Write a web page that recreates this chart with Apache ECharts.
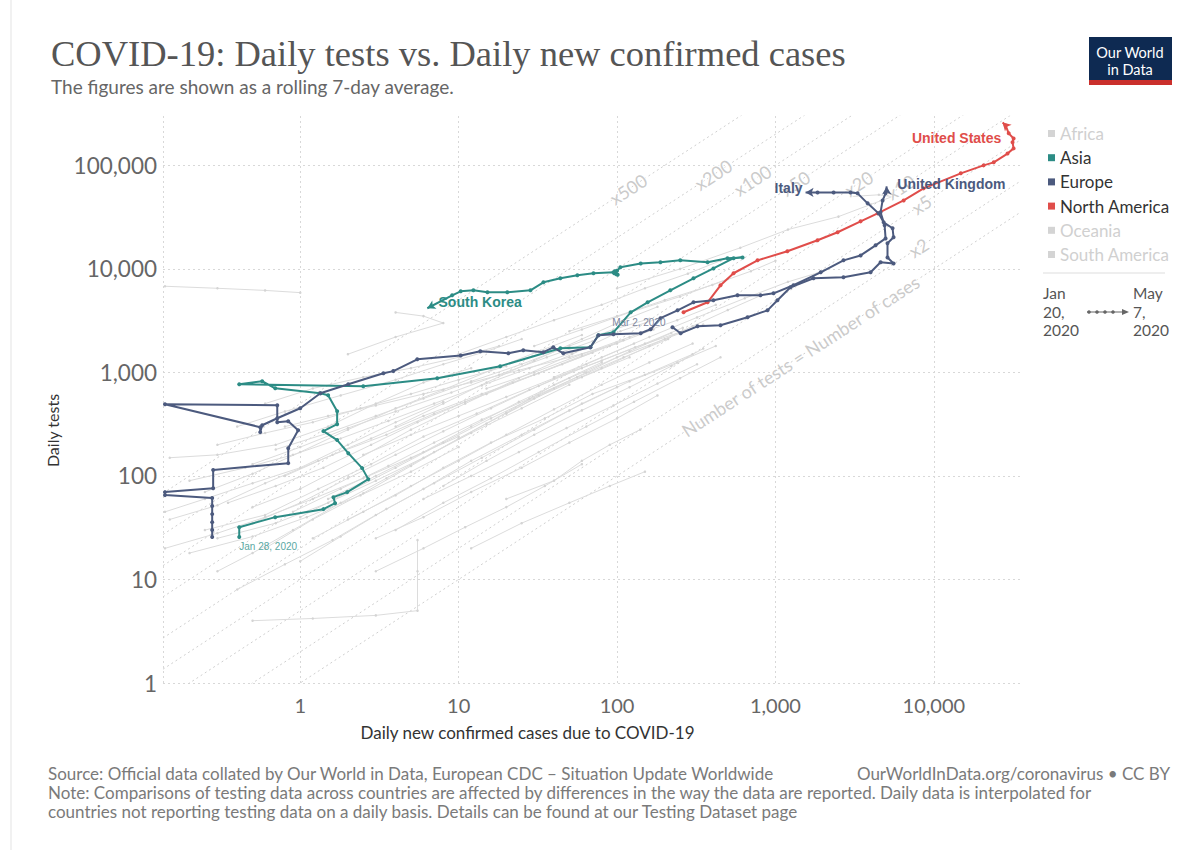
<!DOCTYPE html>
<html>
<head>
<meta charset="utf-8">
<title>COVID-19: Daily tests vs. Daily new confirmed cases</title>
<script src="https://cdn.jsdelivr.net/npm/echarts@6/dist/echarts.min.js"></script>
<style>
  html, body { margin: 0; padding: 0; background: #fff; }
  #chart { width: 1203px; height: 850px; }
</style>
</head>
<body>
<div id="chart"></div>
<script>
// ---- axis ranges and ticks -------------------------------------------------
const CASES_MIN = 0.136;
const CASES_MAX = 35000;
const TESTS_MIN = 1;
const TESTS_MAX = 300000;
const caseTicks = [1, 10, 100, 1000, 10000];
const testTicks = [1, 10, 100, 1000, 10000, 100000];

// ---- tests-per-case guide lines --------------------------------------------
const ratioLines = [1, 2, 5, 10, 20, 50, 100, 200, 500];
const ratioLabels = ['Number of tests = Number of cases', 'x2', 'x5', 'x10', 'x20', 'x50', 'x100', 'x200', 'x500'];
const ratioLabelAt = [1440, 8020, 8370, 6170, 3350, 1340, 717, 406, 118]; // daily cases where each label sits

// ---- time range key ------------------------------------------------------------
const rangeStart = ['Jan', '20,', '2020'];
const rangeEnd = ['May', '7,', '2020'];

// ---- highlighted countries: [daily new cases, daily tests] -----------------
const southKorea = [
  [0.412, 25.7], [0.412, 32], [0.695, 40], [1.40, 47.8], [1.66, 54.6], [1.62, 62.4], [1.98, 69.8],
  [2.69, 93], [2.46, 119], [2.01, 166], [1.71, 222], [1.40, 271], [1.71, 316], [1.71, 422],
  [1.50, 603], [1.34, 630], [0.695, 703], [0.575, 822], [0.412, 769], [2.50, 736], [7.33, 879],
  [18.3, 1150], [43.9, 1710], [67.9, 1750], [76.3, 2290], [94.9, 2440], [122, 3810], [156, 4760],
  [217, 6210], [304, 8120], [406, 10100], [544, 12700], [620, 12900], [498, 12700], [373, 11600],
  [251, 12100], [188, 11600], [141, 11300], [105, 10400], [100, 9600], [96, 9100], [101, 8800],
  [97, 9500], [99, 8900], [95, 9300], [71, 9080], [56.2, 8670], [43.9, 8120], [34.3, 7420],
  [28.4, 6210], [20.3, 5940], [15.2, 5940], [12.4, 6210], [10.3, 6080], [9.1, 5560], [6.34, 4170]
];
const italy = [
  [224, 2730], [252, 2390], [322, 2790], [450, 2860], [667, 3410], [891, 3980], [1030, 4980],
  [1245, 6640], [1740, 8120], [2690, 8300], [3990, 9270], [4610, 11600], [5570, 11300],
  [5100, 12900], [5100, 17700], [5570, 20200], [5490, 24700], [4820, 28200], [4480, 34400],
  [3820, 43000], [3300, 53700], [2980, 54800], [2330, 54800], [1845, 54800], [1550, 54800]
];
const unitedKingdom = [
  [0.278, 25.7], [0.278, 30], [0.278, 35.8], [0.278, 42.8], [0.278, 51.2], [0.278, 61.1],
  [0.14, 65.3], [0.14, 69.8], [0.282, 76.2], [0.282, 114], [0.84, 133], [0.84, 185], [0.97, 277],
  [0.84, 338], [0.716, 331], [0.716, 482], [0.14, 493], [0.559, 296], [0.559, 265], [0.575, 309],
  [0.716, 361], [1.0, 451], [1.34, 630], [2.01, 769], [3.35, 982], [3.87, 1030], [5.48, 1340],
  [10.3, 1460], [13.7, 1600], [20.6, 1530], [25.6, 1640], [34.3, 1570], [39.6, 1750], [45.8, 1530],
  [67.9, 1750], [76.3, 2290], [94.9, 2340], [141, 2390], [163, 2610], [188, 3340], [241, 3980],
  [304, 4760], [406, 4980], [576, 5560], [805, 5560], [973, 5810], [1300, 6950], [1930, 9270],
  [2690, 12100], [3450, 13500], [4290, 16900], [4960, 19700], [4890, 26400], [4610, 35200],
  [4750, 45900], [4960, 53700], [5040, 62700]
];
const unitedStates = [
  [263, 3810], [373, 4760], [450, 6950], [544, 9080], [771, 12100], [1190, 14800], [1845, 18900],
  [2470, 22600], [3450, 28800], [4420, 34400], [6450, 45900], [8620, 60000], [14800, 83800],
  [20600, 100000], [23900, 107000], [29200, 130000], [31900, 146000], [31400, 167000],
  [31900, 182000], [29700, 204000], [28400, 243000], [27200, 260000]
];

// ---- every other country, drawn in grey -------------------------------------
const otherCountries = [
  [[0.3, 12], [0.5, 18], [0.9, 30], [1.8, 55], [3.5, 95], [7, 170], [15, 320], [30, 560], [60, 900], [120, 1400]],
  [[0.25, 30], [0.6, 42], [1.3, 75], [2.8, 130], [6, 240], [13, 400], [28, 680], [60, 1100], [130, 1750], [260, 2500]],
  [[0.5, 50], [1, 75], [2.2, 140], [5, 280], [11, 500], [24, 880], [52, 1500], [105, 2500], [190, 3400]],
  [[0.15, 38], [0.3, 52], [0.6, 85], [1.3, 140], [2.8, 230], [6, 380], [14, 620], [32, 980], [70, 1550]],
  [[1, 15], [1.8, 26], [3.5, 48], [7, 85], [14, 150], [30, 280], [60, 500], [120, 820], [240, 1250], [420, 1800]],
  [[0.8, 100], [1.6, 160], [3.5, 250], [7, 400], [15, 620], [30, 950], [60, 1450], [110, 2050]],
  [[0.4, 8], [0.8, 14], [1.6, 24], [3, 42], [6, 75], [12, 140], [25, 250], [50, 430], [100, 720]],
  [[2, 38], [4, 65], [8, 120], [16, 210], [35, 360], [70, 620], [150, 950], [300, 1500]],
  [[0.25, 70], [0.5, 105], [1, 170], [2, 280], [4, 450], [8, 680], [16, 1050], [32, 1600], [60, 2300]],
  [[0.6, 20], [1.2, 38], [2.5, 68], [5, 125], [10, 230], [20, 410], [40, 760], [80, 1250]],
  [[0.14, 6800], [0.3, 6500], [0.6, 6200], [1, 5900]],
  [[0.7, 180], [1.5, 260], [3, 380], [6, 560], [12, 820], [25, 1200], [50, 1800], [95, 2600], [160, 3300]],
  [[1.5, 60], [3, 100], [6, 170], [12, 300], [24, 520], [50, 880], [100, 1400], [200, 2100], [350, 2900]],
  [[0.3, 25], [0.7, 35], [1.5, 55], [3, 90], [6, 150], [12, 260], [25, 450], [50, 760]],
  [[3, 25], [6, 40], [12, 70], [25, 120], [50, 210], [100, 360], [180, 600]],
  [[0.5, 130], [1, 190], [2, 290], [4, 420], [9, 640], [18, 950], [36, 1400], [70, 2000]],
  [[1, 40], [2, 70], [4, 120], [8, 210], [16, 360], [32, 600], [64, 1000], [120, 1600], [220, 2400]],
  [[0.2, 18], [0.5, 26], [1.1, 40], [2.4, 65], [5, 110], [10, 190]],
  [[4, 300], [8, 500], [15, 800], [30, 1300], [60, 2100], [110, 3200], [180, 4300]],
  [[8, 80], [15, 140], [30, 250], [60, 430], [120, 720], [220, 1150], [350, 1700]],
  [[0.4, 300], [0.8, 420], [1.8, 600], [4, 850], [8, 1200], [15, 1600], [25, 2100]],
  [[10, 1500], [20, 2200], [40, 3200], [80, 4500], [150, 6500], [280, 9000], [450, 12000]],
  [[30, 1800], [60, 2600], [120, 3800], [250, 5400], [500, 8000]],
  [[100, 6500], [250, 10000], [600, 16000], [1200, 24000], [2500, 32000], [4000, 42000], [5500, 50000], [4500, 52000], [3000, 50000]],
  [[40, 900], [80, 1400], [160, 2200], [320, 3400], [640, 5200], [1200, 7500], [2000, 9500]],
  [[2, 1500], [4, 2200], [8, 3000], [6, 3500], [4, 3800]],
  [[20, 60], [40, 90], [60, 140], [90, 200], [140, 280]],
  [[12, 20], [25, 35], [50, 55], [90, 80], [150, 110]],
  [[0.5, 4], [1.2, 4.2], [3, 4.5], [5.5, 5], [5.5, 12], [5.5, 24]],
  [[0.15, 150], [0.3, 160], [0.7, 200], [1.5, 300], [3, 500], [6, 800], [12, 1100]],
  [[0.6, 500], [1.2, 700], [2.5, 900], [5, 1100], [10, 1400], [18, 1800]],
  [[3, 12], [6, 20], [11, 32], [20, 50], [35, 80], [60, 130]],
  [[0.14, 45], [0.25, 60], [0.5, 85], [1, 120], [2, 200], [4, 330], [8, 520]],
  [[50, 2500], [100, 3500], [200, 5000], [400, 7000], [700, 9500], [1000, 12000]],
  [[20, 400], [40, 700], [80, 1100], [160, 1800], [300, 2800], [500, 4000], [800, 5500]],
  [[0.35, 55], [0.7, 80], [1.4, 120], [2.8, 200], [5.5, 330], [11, 520], [22, 800], [45, 1200], [90, 1800], [170, 2600]],
  [[0.9, 45], [1.8, 75], [3.6, 125], [7, 210], [14, 350], [28, 560], [56, 900], [110, 1400], [210, 2100]],
  [[0.2, 90], [0.45, 120], [0.9, 160], [1.8, 230], [3.6, 340], [7, 500], [14, 750], [28, 1100], [55, 1600]],
  [[1.2, 25], [2.5, 45], [5, 80], [10, 140], [20, 250], [40, 440], [80, 760], [160, 1250], [300, 1900]],
  [[0.5, 35], [1, 55], [2, 95], [4, 160], [8, 270], [16, 450], [32, 740], [64, 1200], [128, 1900]],
  [[2.5, 160], [5, 250], [10, 380], [20, 580], [40, 880], [80, 1300], [150, 1900], [260, 2700]],
  [[0.3, 200], [0.6, 260], [1.2, 330], [2.4, 450], [5, 620], [10, 850], [20, 1150]],
  [[6, 60], [12, 100], [24, 170], [48, 290], [95, 480], [180, 780], [320, 1200]],
  [[0.14, 20], [0.3, 28], [0.6, 40], [1.2, 60], [2.5, 95], [5, 150], [10, 240]],
  [[0.8, 300], [1.5, 380], [3, 480], [6, 620], [12, 800], [24, 1050], [50, 1400], [100, 1900]],
  [[15, 700], [30, 1000], [60, 1500], [120, 2200], [240, 3200], [420, 4500]],
  [[4, 30], [8, 55], [16, 95], [32, 170], [64, 300], [128, 520], [250, 880], [450, 1400]]
];

// ---- colours ------------------------------------------------------------------
const ASIA = '#2c8c85';
const EUROPE = '#4c5a7e';
const NORTH_AMERICA = '#e04d4a';
const FADED = '#d4d4d4';
const GREY_LINE = '#dcdcdc';
const FONT = 'Lato, "Noto Sans", sans-serif';
const LABEL_FONT = '"Liberation Sans", Arial, sans-serif';

function thousands(n) {
  return String(Math.round(n)).replace(/\B(?=(\d{3})+(?!\d))/g, ',');
}
function tickFormatter(list) {
  return function (v) {
    const hit = list.find(function (t) { return Math.abs(t - v) / t < 1e-6; });
    return hit ? thousands(hit) : '';
  };
}

// Turns a track into series data, decorating its first and last points.
function trackData(points, first, last) {
  return points.map(function (p, i) {
    if (i === 0 && first) return Object.assign({ value: p }, first);
    if (i === points.length - 1 && last) return Object.assign({ value: p }, last);
    return p;
  });
}

function countrySeries(name, color, points, first, last, z) {
  return {
    type: 'line', name: name, silent: true, z: z,
    data: trackData(points, first, last),
    symbol: 'circle', symbolSize: 4, showSymbol: true,
    itemStyle: { color: color },
    lineStyle: { color: color, width: 2 },
    label: { show: false },
    emphasis: { disabled: true }
  };
}

function endLabel(text, color, position, offset, extra) {
  return {
    label: Object.assign({
      show: true, formatter: text, position: position, offset: offset,
      color: color, fontFamily: LABEL_FONT, fontWeight: 'bold', fontSize: 14
    }, extra || {})
  };
}

const series = [];

// guide lines
ratioLines.forEach(function (k) {
  series.push({
    type: 'line', silent: true, z: 1, clip: true, symbol: 'none',
    data: [[CASES_MIN, k * CASES_MIN], [CASES_MAX, k * CASES_MAX]],
    lineStyle: { color: '#cfcfcf', width: 1, type: [2, 3] },
    emphasis: { disabled: true }
  });
});

// guide line captions
series.push({
  type: 'scatter', silent: true, z: 3, symbolSize: 0,
  data: ratioLines.map(function (k, i) {
    return { value: [ratioLabelAt[i], k * ratioLabelAt[i]], name: ratioLabels[i] };
  }),
  label: {
    show: true, position: 'inside', formatter: '{b}', rotate: 33,
    color: '#bdbdbd', fontFamily: FONT, fontSize: 18,
    textBorderColor: '#ffffff', textBorderWidth: 3
  },
  emphasis: { disabled: true }
});

// grey countries
otherCountries.forEach(function (pts) {
  series.push({
    type: 'line', silent: true, z: 2, data: pts,
    symbol: 'circle', symbolSize: 2.5, showSymbol: true,
    itemStyle: { color: '#d4d4d4' },
    lineStyle: { color: GREY_LINE, width: 1 },
    emphasis: { disabled: true }
  });
});

// empty entries so faded continents still appear in the legend
['Africa', 'Oceania', 'South America'].forEach(function (n) {
  series.push({ type: 'line', name: n, data: [], itemStyle: { color: FADED } });
});

series.push(countrySeries('Asia', ASIA, southKorea,
  { label: { show: true, formatter: 'Jan 28, 2020', position: [2, 6], align: 'left', verticalAlign: 'top',
             color: '#5aa8a2', fontFamily: LABEL_FONT, fontSize: 10 } },
  Object.assign({ symbol: 'arrow', symbolSize: [7, 8], symbolRotate: 117 },
    endLabel('South Korea', ASIA, 'right', [0, -4], { distance: 2 })), 6));

series.push(countrySeries('Europe', EUROPE, italy,
  { label: { show: true, formatter: 'Mar 2, 2020', position: 'left', offset: [0, -5],
             color: '#7d869e', fontFamily: LABEL_FONT, fontSize: 10 } },
  Object.assign({ symbol: 'arrow', symbolSize: [7, 8], symbolRotate: 90 },
    endLabel('Italy', EUROPE, 'left', [0, -4], { distance: 3 })), 6));

series.push(countrySeries('Europe', EUROPE, unitedKingdom, null,
  Object.assign({ symbol: 'arrow', symbolSize: [7, 8], symbolRotate: 0 },
    endLabel('United Kingdom', EUROPE, 'right', [0, -6], { distance: 6 })), 6));

series.push(countrySeries('North America', NORTH_AMERICA, unitedStates, null,
  Object.assign({ symbol: 'arrow', symbolSize: [7, 8], symbolRotate: 45 },
    endLabel('United States', NORTH_AMERICA, 'left', [4, 13], { distance: 2 })), 5));

const legendNames = ['Africa', 'Asia', 'Europe', 'North America', 'Oceania', 'South America'];
const legendColors = [FADED, ASIA, EUROPE, NORTH_AMERICA, FADED, FADED];
const legendText = ['#d0d0d0', '#333333', '#333333', '#333333', '#d0d0d0', '#d0d0d0'];

// time range key: each word on its own row
const rangeText = [];
[[1043, rangeStart], [1133, rangeEnd]].forEach(function (col) {
  col[1].forEach(function (word, i) {
    rangeText.push({
      type: 'text', silent: true, x: col[0], y: 293 + i * 18.5,
      style: { text: word, fill: '#555', fontFamily: FONT, fontSize: 15.5, align: 'left', verticalAlign: 'middle' }
    });
  });
});

const option = {
  backgroundColor: '#ffffff',
  animation: false,
  title: {
    left: 46, top: 30,
    text: 'COVID-19: Daily tests vs. Daily new confirmed cases',
    textStyle: { fontFamily: '"Liberation Serif", "DejaVu Serif", serif', fontSize: 36.5, fontWeight: 'normal', color: '#555555' },
    subtext: 'The figures are shown as a rolling 7-day average.',
    subtextStyle: { fontFamily: FONT, fontSize: 19, color: '#666666' },
    itemGap: 5
  },
  legend: {
    orient: 'vertical', left: 1043, top: 120,
    icon: 'rect', itemWidth: 7, itemHeight: 7, itemGap: 7.2,
    selectedMode: false,
    textStyle: { fontFamily: FONT, fontSize: 17, lineHeight: 17, color: '#333' },
    data: legendNames.map(function (n, i) {
      return {
        name: n,
        itemStyle: { color: legendColors[i], borderWidth: 0 },
        lineStyle: { width: 0 },
        textStyle: { color: legendText[i] }
      };
    })
  },
  grid: { left: 163, right: 183, top: 116, bottom: 167, containLabel: false, outerBoundsMode: 'none' },
  xAxis: {
    type: 'log', logBase: 10, min: CASES_MIN, max: CASES_MAX,
    name: 'Daily new confirmed cases due to COVID-19',
    nameLocation: 'middle', nameGap: 41,
    nameTextStyle: { fontFamily: FONT, fontSize: 17, color: '#333', padding: [0, 128, 0, 0] },
    axisLine: { show: false }, axisTick: { show: false },
    axisLabel: { formatter: tickFormatter(caseTicks), fontFamily: FONT, fontSize: 20, color: '#666', margin: 12 },
    splitLine: { show: true, showMinLine: true, showMaxLine: false, lineStyle: { color: '#d8d8d8', type: [2, 3], width: 1 } }
  },
  yAxis: {
    type: 'log', logBase: 10, min: TESTS_MIN, max: TESTS_MAX,
    name: 'Daily tests',
    nameLocation: 'middle', nameGap: 103, nameRotate: 90,
    nameTextStyle: { fontFamily: FONT, fontSize: 16, color: '#333', padding: [0, 62, 0, 0] },
    axisLine: { show: false }, axisTick: { show: false },
    axisLabel: { formatter: tickFormatter(testTicks), fontFamily: FONT, fontSize: 22.5, color: '#666', margin: 6 },
    splitLine: { show: true, showMinLine: true, showMaxLine: false, lineStyle: { color: '#d8d8d8', type: [2, 3], width: 1 } }
  },
  graphic: [
    { type: 'line', silent: true, shape: { x1: 11, y1: 0, x2: 11, y2: 850 }, style: { stroke: '#e3e3e3', lineWidth: 1 } },
    // logo
    { type: 'rect', silent: true, shape: { x: 1089, y: 37, width: 83, height: 46 }, style: { fill: '#0e2a52' } },
    { type: 'rect', silent: true, shape: { x: 1089, y: 80, width: 83, height: 5 }, style: { fill: '#ca2f2c' } },
    { type: 'text', silent: true, x: 1130, y: 52, style: { text: 'Our World', fill: '#ffffff', fontFamily: FONT, fontSize: 14.5, align: 'center', verticalAlign: 'middle' } },
    { type: 'text', silent: true, x: 1130, y: 69, style: { text: 'in Data', fill: '#ffffff', fontFamily: FONT, fontSize: 14.5, align: 'center', verticalAlign: 'middle' } },
    // time range key under the legend
    { type: 'line', silent: true, shape: { x1: 1043, y1: 273, x2: 1165, y2: 273 }, style: { stroke: '#dddddd', lineWidth: 1 } },
    { type: 'line', silent: true, shape: { x1: 1087, y1: 312, x2: 1124, y2: 312 }, style: { stroke: '#666', lineWidth: 1.2 } },
    { type: 'circle', silent: true, shape: { cx: 1089, cy: 312, r: 1.8 }, style: { fill: '#666' } },
    { type: 'circle', silent: true, shape: { cx: 1097, cy: 312, r: 1.8 }, style: { fill: '#666' } },
    { type: 'circle', silent: true, shape: { cx: 1105, cy: 312, r: 1.8 }, style: { fill: '#666' } },
    { type: 'circle', silent: true, shape: { cx: 1113, cy: 312, r: 1.8 }, style: { fill: '#666' } },
    { type: 'polygon', silent: true, shape: { points: [[1122, 309], [1129, 312], [1122, 315]] }, style: { fill: '#666' } },
    // footer
    { type: 'text', silent: true, x: 48, y: 773, style: { text: 'Source: Official data collated by Our World in Data, European CDC \u2013 Situation Update Worldwide', fill: '#7a7a7a', fontFamily: FONT, fontSize: 17, verticalAlign: 'middle' } },
    { type: 'text', silent: true, x: 1170, y: 773, style: { text: 'OurWorldInData.org/coronavirus \u2022 CC BY', fill: '#7a7a7a', fontFamily: FONT, fontSize: 17, align: 'right', verticalAlign: 'middle' } },
    { type: 'text', silent: true, x: 48, y: 792, style: { text: 'Note: Comparisons of testing data across countries are affected by differences in the way the data are reported. Daily data is interpolated for', fill: '#7a7a7a', fontFamily: FONT, fontSize: 17, verticalAlign: 'middle' } },
    { type: 'text', silent: true, x: 48, y: 811, style: { text: 'countries not reporting testing data on a daily basis. Details can be found at our Testing Dataset page', fill: '#7a7a7a', fontFamily: FONT, fontSize: 17, verticalAlign: 'middle' } }
  ].concat(rangeText),
  series: series
};

const chart = echarts.init(document.getElementById('chart'), null, { renderer: 'svg' });
chart.setOption(option);
</script>
</body>
</html>
